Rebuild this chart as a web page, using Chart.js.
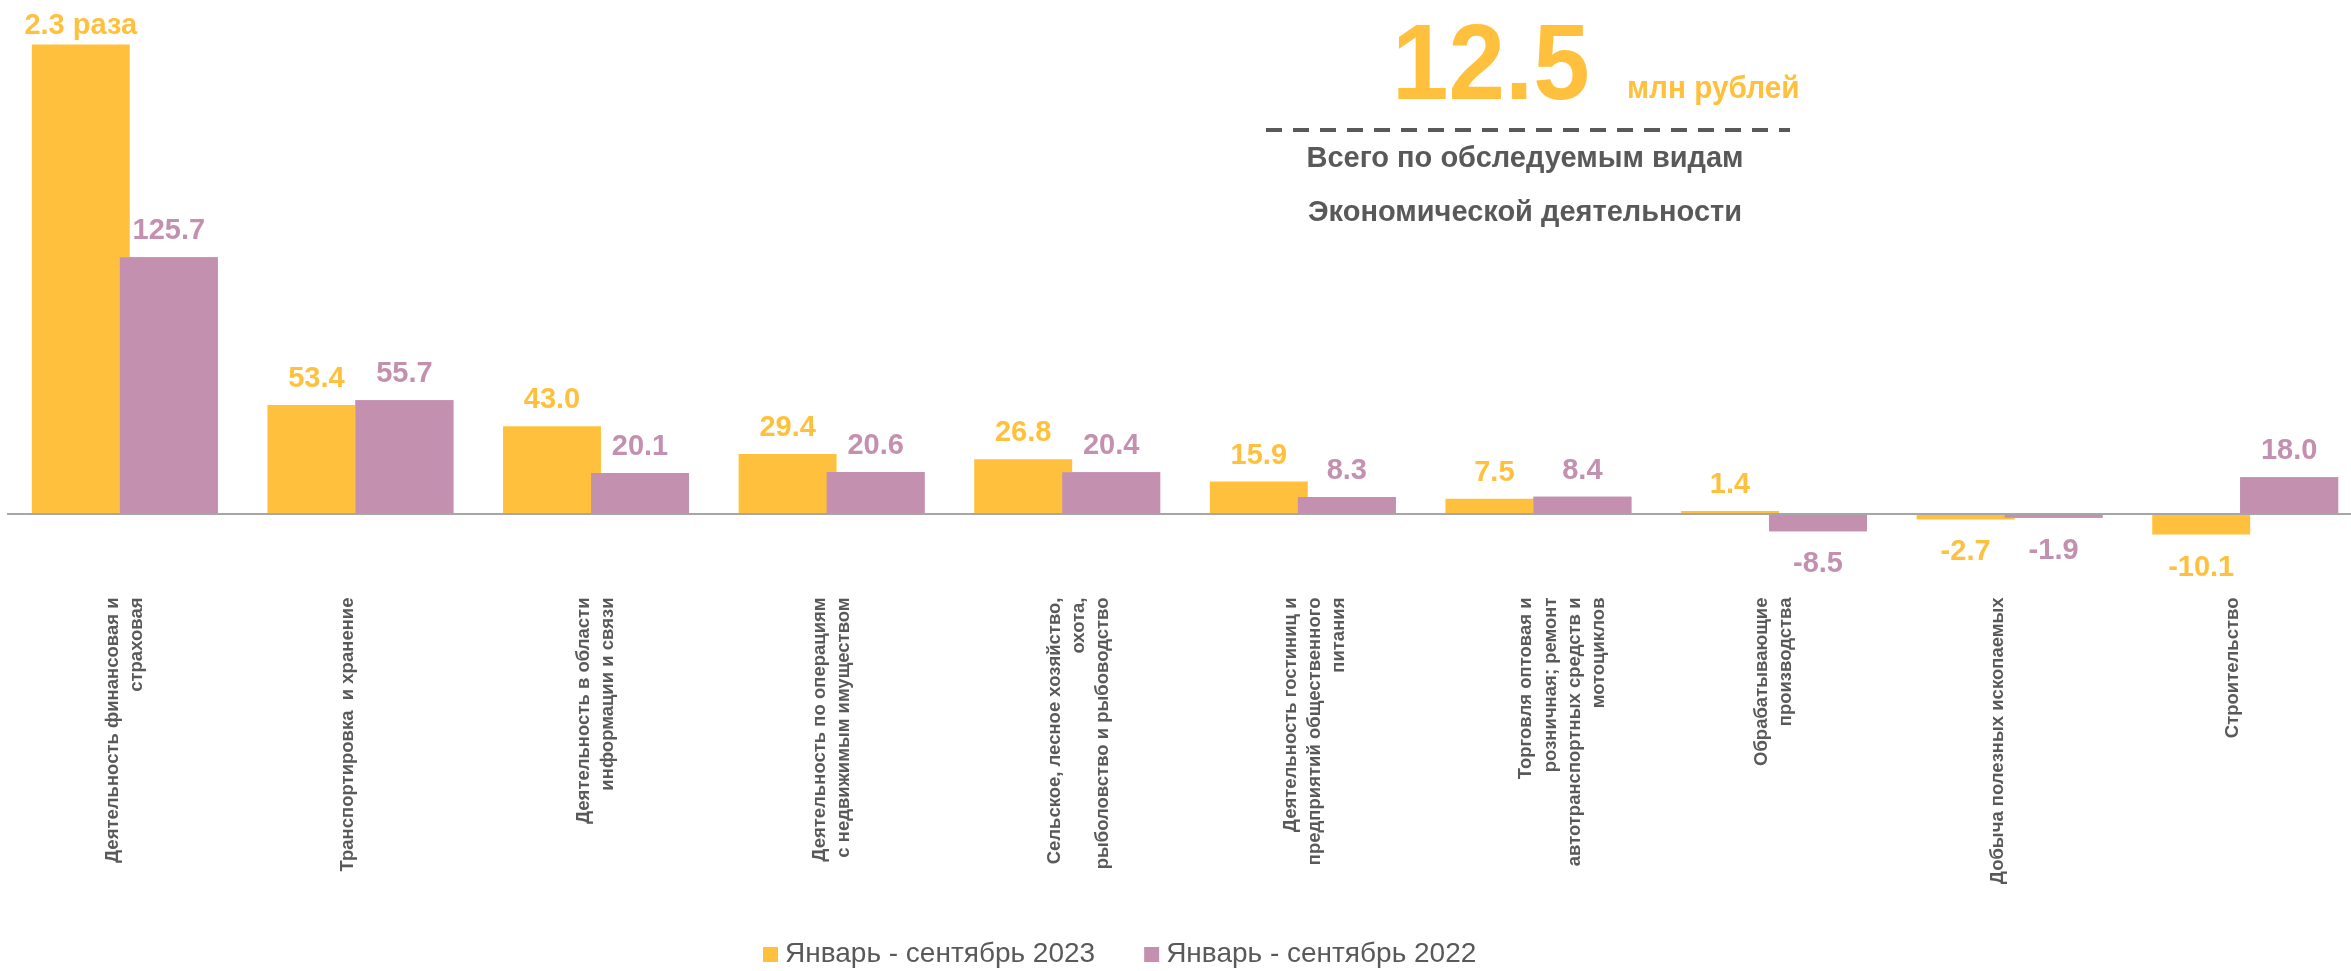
<!DOCTYPE html>
<html>
<head>
<meta charset="utf-8">
<script src="https://cdn.jsdelivr.net/npm/chart.js@4.4.1/dist/chart.umd.min.js"></script>
<style>
  html, body { margin: 0; padding: 0; background: #fff; overflow: hidden; }
  /* plot area of the original runs slightly past the right edge of the picture */
  #wrap { width: 2363px; height: 971px; position: relative; }
</style>
</head>
<body>
<div id="wrap"><canvas id="chart"></canvas></div>
<script>
const categories = [
  ['Деятельность финансовая и', 'страховая'],
  ['Транспортировка  и хранение'],
  ['Деятельность в области', 'информации и связи'],
  ['Деятельность по операциям', 'с недвижимым имуществом'],
  ['Сельское, лесное хозяйство,', 'охота,', 'рыболовство и рыбоводство'],
  ['Деятельность гостиниц и', 'предприятий общественного', 'питания'],
  ['Торговля оптовая и', 'розничная; ремонт', 'автотранспортных средств и', 'мотоциклов'],
  ['Обрабатывающие', 'производства'],
  ['Добыча полезных ископаемых'],
  ['Строительство']
];
const seriesNames = ['Январь - сентябрь 2023', 'Январь - сентябрь 2022'];
const values2023 = [230, 53.4, 43.0, 29.4, 26.8, 15.9, 7.5, 1.4, -2.7, -10.1];
const values2022 = [125.7, 55.7, 20.1, 20.6, 20.4, 8.3, 8.4, -8.5, -1.9, 18.0];
// labels that are not just the value
const labelOverrides2023 = ['2.3 раза'];
const yMin = -37, yMax = 240, yStep = 40;

const totalValue = '12.5';
const totalUnit = 'млн рублей';
const totalCaption = ['Всего по обследуемым видам', 'Экономической деятельности'];

const YELLOW = '#FFC13D';
const PURPLE = '#C490B0';
const GREY = '#595959';
const FONT = "'Liberation Sans', Arial, sans-serif";

// purple bars sit over the yellow ones where they touch
const purpleOnTop = {
  id: 'purpleOnTop',
  afterDatasetsDraw(chart) {
    chart.getDatasetMeta(1).controller.draw();
  }
};

const valueLabels = {
  id: 'valueLabels',
  afterDatasetsDraw(chart) {
    const ctx = chart.ctx;
    ctx.save();
    ctx.font = 'bold 29px ' + FONT;
    ctx.textAlign = 'center';
    ctx.textBaseline = 'alphabetic';
    chart.data.datasets.forEach((ds, di) => {
      const meta = chart.getDatasetMeta(di);
      meta.data.forEach((bar, i) => {
        const v = ds.data[i];
        let txt = v.toFixed(1);
        if (di === 0 && labelOverrides2023[i]) txt = labelOverrides2023[i];
        let y = v >= 0 ? bar.y - 18 : bar.y + 41;
        if (y < 34) y = 34;
        ctx.fillStyle = ds.backgroundColor;
        ctx.fillText(txt, bar.x, y);
      });
    });
    ctx.restore();
  }
};

function narrowText(ctx, txt, x, y, sx) {
  ctx.save();
  ctx.translate(x, y);
  ctx.scale(sx, 1);
  ctx.fillText(txt, 0, 0);
  ctx.restore();
}

const extras = {
  id: 'extras',
  afterDraw(chart) {
    const ctx = chart.ctx;
    ctx.save();
    // total block
    ctx.fillStyle = YELLOW;
    ctx.textBaseline = 'alphabetic';
    ctx.textAlign = 'left';
    ctx.font = 'bold 108px ' + FONT;
    narrowText(ctx, totalValue, 1392, 99, 0.94);
    ctx.font = 'bold 32px ' + FONT;
    narrowText(ctx, totalUnit, 1627, 98, 0.93);

    ctx.strokeStyle = GREY;
    ctx.lineWidth = 4;
    ctx.setLineDash([16, 11]);
    ctx.beginPath();
    ctx.moveTo(1266, 130);
    ctx.lineTo(1790, 130);
    ctx.stroke();
    ctx.setLineDash([]);

    ctx.fillStyle = GREY;
    ctx.textAlign = 'center';
    ctx.font = 'bold 29px ' + FONT;
    ctx.fillText(totalCaption[0], 1525, 167);
    ctx.fillText(totalCaption[1], 1525, 221);

    // legend
    ctx.font = '28px ' + FONT;
    ctx.textAlign = 'left';
    ctx.textBaseline = 'middle';
    let x = 763;
    const cy = 954;
    chart.data.datasets.forEach(ds => {
      ctx.fillStyle = ds.backgroundColor;
      ctx.fillRect(x, cy - 7, 15, 15);
      ctx.fillStyle = GREY;
      ctx.fillText(ds.label, x + 22, cy);
      x += 22 + ctx.measureText(ds.label).width + 49;
    });
    ctx.restore();
  }
};

new Chart(document.getElementById('chart'), {
  type: 'bar',
  data: {
    labels: categories,
    datasets: [
      { label: seriesNames[0], data: values2023, backgroundColor: YELLOW },
      { label: seriesNames[1], data: values2022, backgroundColor: PURPLE }
    ]
  },
  options: {
    responsive: true,
    maintainAspectRatio: false,
    animation: false,
    events: [],
    categoryPercentage: 0.747,
    barPercentage: 1.113,
    layout: { padding: { top: 24, left: 7, right: 0, bottom: 0 } },
    plugins: { legend: { display: false }, tooltip: { enabled: false } },
    scales: {
      x: {
        grid: { display: false },
        border: { display: false },
        ticks: {
          color: GREY,
          font: { family: FONT, size: 18.5, weight: 'bold', lineHeight: 1.3 },
          minRotation: 90,
          maxRotation: 90,
          autoSkip: false,
          padding: 0,
          labelOffset: -12
        },
        afterFit(scale) { scale.height = 381.5; }
      },
      y: {
        min: yMin,
        max: yMax,
        border: { display: false },
        ticks: { display: false, stepSize: yStep },
        grid: {
          drawTicks: false,
          lineWidth: 2,
          color: c => (c.tick && c.tick.value === 0) ? '#A6A6A6' : 'rgba(0,0,0,0)'
        }
      }
    }
  },
  plugins: [purpleOnTop, valueLabels, extras]
});
</script>
</body>
</html>
